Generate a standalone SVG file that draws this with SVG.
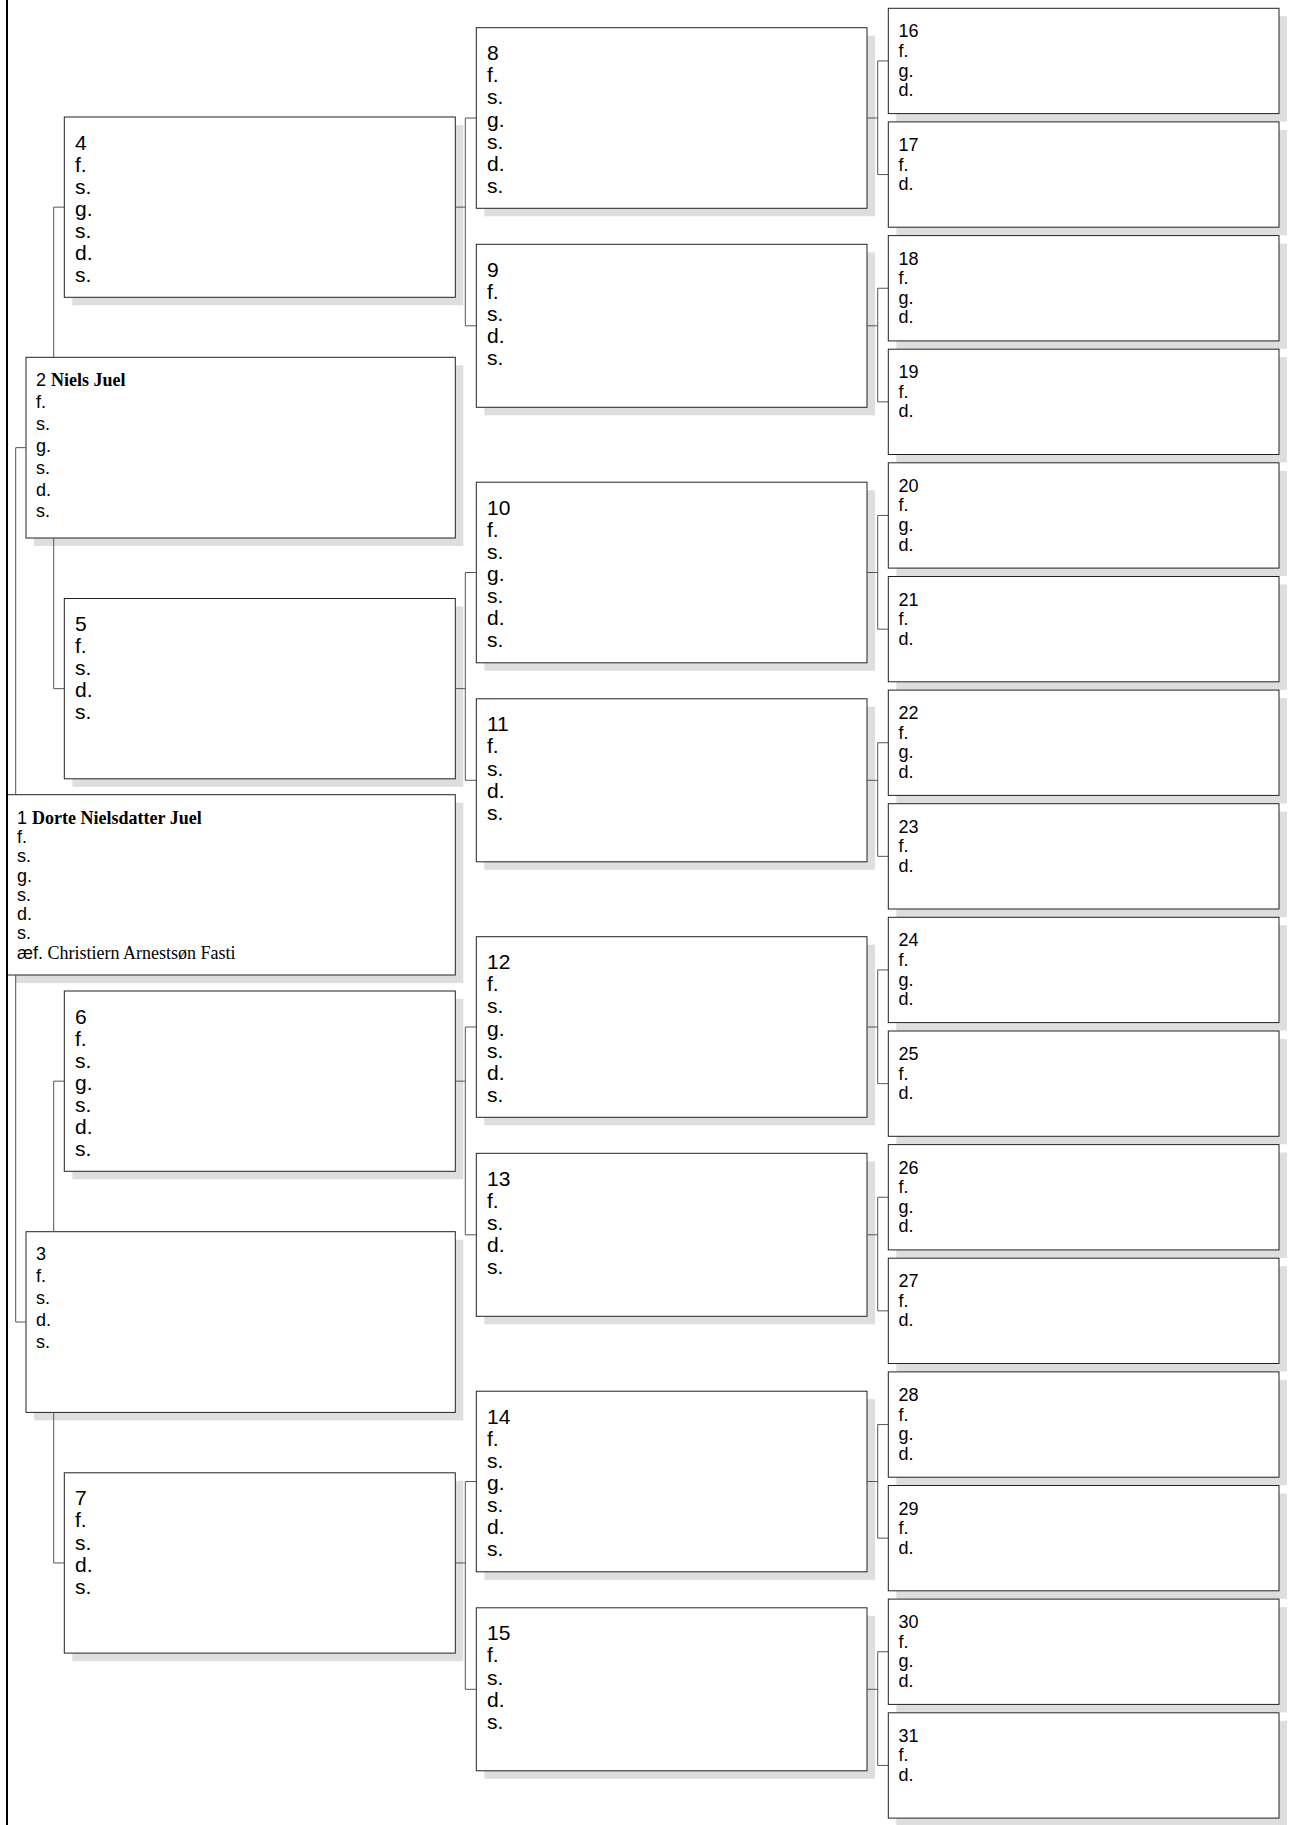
<svg xmlns="http://www.w3.org/2000/svg" width="1304" height="1825" viewBox="0 0 1304 1825">
<style>
.bg{fill:#fff}
.sh{fill:#dedede}
.box{fill:#fff;stroke:#222;stroke-width:1}
.c{fill:none;stroke:#555;stroke-width:1}
.main{fill:none;stroke:#000;stroke-width:2}
text{font-family:"Liberation Sans",Arial,sans-serif;fill:#000}
.L{font-size:21px}
.S{font-size:18px}
.serif{font-family:"Liberation Serif","Times New Roman",serif}
.b{font-weight:bold}
</style>
<rect class="bg" x="0" y="0" width="1304" height="1825"/>

<!-- Generation 1 -->
<g id="p1">
<rect class="sh" x="15.3" y="802.7" width="448" height="180.3"/>
<rect class="box" x="7.3" y="794.7" width="448" height="180.3"/>
<text class="S" x="17" y="824">1 <tspan class="serif b">Dorte Nielsdatter Juel</tspan></text>
<text class="S" x="17" y="843.2">f.</text>
<text class="S" x="17" y="862.4">s.</text>
<text class="S" x="17" y="881.6">g.</text>
<text class="S" x="17" y="900.8">s.</text>
<text class="S" x="17" y="920">d.</text>
<text class="S" x="17" y="939.2">s.</text>
<text class="S" x="17" y="959">æf.<tspan class="serif"> Christiern Arnestsøn Fasti</tspan></text>
</g>

<!-- Generation 2 -->
<g id="p2">
<rect class="sh" x="34" y="365.3" width="429.3" height="180.7"/>
<rect class="box" x="26" y="357.3" width="429.3" height="180.7"/>
<text class="S" x="36" y="386">2 <tspan class="serif b">Niels Juel</tspan><tspan x="36" dy="21.9">f.</tspan><tspan x="36" dy="21.9">s.</tspan><tspan x="36" dy="21.9">g.</tspan><tspan x="36" dy="21.9">s.</tspan><tspan x="36" dy="21.9">d.</tspan><tspan x="36" dy="21.9">s.</tspan></text>
</g>
<g id="p3">
<rect class="sh" x="34" y="1239.7" width="429.3" height="180.7"/>
<rect class="box" x="26" y="1231.7" width="429.3" height="180.7"/>
<text class="S" x="36" y="1260">3<tspan x="36" dy="22">f.</tspan><tspan x="36" dy="22">s.</tspan><tspan x="36" dy="22">d.</tspan><tspan x="36" dy="22">s.</tspan></text>
</g>

<!-- Generation 3 -->
<g id="p4">
<rect class="sh" x="72.3" y="125" width="391" height="180.3"/>
<rect class="box" x="64.3" y="117" width="391" height="180.3"/>
<text class="L" x="75" y="149.5">4<tspan x="75" dy="22.1">f.</tspan><tspan x="75" dy="22.1">s.</tspan><tspan x="75" dy="22.1">g.</tspan><tspan x="75" dy="22.1">s.</tspan><tspan x="75" dy="22.1">d.</tspan><tspan x="75" dy="22.1">s.</tspan></text>
</g>
<g id="p5">
<rect class="sh" x="72.3" y="606.5" width="391" height="180.3"/>
<rect class="box" x="64.3" y="598.5" width="391" height="180.3"/>
<text class="L" x="75" y="631">5<tspan x="75" dy="22.1">f.</tspan><tspan x="75" dy="22.1">s.</tspan><tspan x="75" dy="22.1">d.</tspan><tspan x="75" dy="22.1">s.</tspan></text>
</g>
<g id="p6">
<rect class="sh" x="72.3" y="999" width="391" height="180.3"/>
<rect class="box" x="64.3" y="991" width="391" height="180.3"/>
<text class="L" x="75" y="1023.5">6<tspan x="75" dy="22.1">f.</tspan><tspan x="75" dy="22.1">s.</tspan><tspan x="75" dy="22.1">g.</tspan><tspan x="75" dy="22.1">s.</tspan><tspan x="75" dy="22.1">d.</tspan><tspan x="75" dy="22.1">s.</tspan></text>
</g>
<g id="p7">
<rect class="sh" x="72.3" y="1480.8" width="391" height="180.3"/>
<rect class="box" x="64.3" y="1472.8" width="391" height="180.3"/>
<text class="L" x="75" y="1505.3">7<tspan x="75" dy="22.1">f.</tspan><tspan x="75" dy="22.1">s.</tspan><tspan x="75" dy="22.1">d.</tspan><tspan x="75" dy="22.1">s.</tspan></text>
</g>

<!-- Generation 4 -->
<g id="p8">
<rect class="sh" x="484.3" y="35.7" width="390.7" height="180.6"/>
<rect class="box" x="476.3" y="27.7" width="390.7" height="180.6"/>
<text class="L" x="487" y="60.2">8<tspan x="487" dy="22.1">f.</tspan><tspan x="487" dy="22.1">s.</tspan><tspan x="487" dy="22.1">g.</tspan><tspan x="487" dy="22.1">s.</tspan><tspan x="487" dy="22.1">d.</tspan><tspan x="487" dy="22.1">s.</tspan></text>
</g>
<g id="p9">
<rect class="sh" x="484.3" y="252.3" width="390.7" height="163"/>
<rect class="box" x="476.3" y="244.3" width="390.7" height="163"/>
<text class="L" x="487" y="276.8">9<tspan x="487" dy="22.1">f.</tspan><tspan x="487" dy="22.1">s.</tspan><tspan x="487" dy="22.1">d.</tspan><tspan x="487" dy="22.1">s.</tspan></text>
</g>
<g id="p10">
<rect class="sh" x="484.3" y="490.2" width="390.7" height="180.6"/>
<rect class="box" x="476.3" y="482.2" width="390.7" height="180.6"/>
<text class="L" x="487" y="514.7">10<tspan x="487" dy="22.1">f.</tspan><tspan x="487" dy="22.1">s.</tspan><tspan x="487" dy="22.1">g.</tspan><tspan x="487" dy="22.1">s.</tspan><tspan x="487" dy="22.1">d.</tspan><tspan x="487" dy="22.1">s.</tspan></text>
</g>
<g id="p11">
<rect class="sh" x="484.3" y="706.8" width="390.7" height="163"/>
<rect class="box" x="476.3" y="698.8" width="390.7" height="163"/>
<text class="L" x="487" y="731.3">11<tspan x="487" dy="22.1">f.</tspan><tspan x="487" dy="22.1">s.</tspan><tspan x="487" dy="22.1">d.</tspan><tspan x="487" dy="22.1">s.</tspan></text>
</g>
<g id="p12">
<rect class="sh" x="484.3" y="944.7" width="390.7" height="180.6"/>
<rect class="box" x="476.3" y="936.7" width="390.7" height="180.6"/>
<text class="L" x="487" y="969.2">12<tspan x="487" dy="22.1">f.</tspan><tspan x="487" dy="22.1">s.</tspan><tspan x="487" dy="22.1">g.</tspan><tspan x="487" dy="22.1">s.</tspan><tspan x="487" dy="22.1">d.</tspan><tspan x="487" dy="22.1">s.</tspan></text>
</g>
<g id="p13">
<rect class="sh" x="484.3" y="1161.3" width="390.7" height="163"/>
<rect class="box" x="476.3" y="1153.3" width="390.7" height="163"/>
<text class="L" x="487" y="1185.8">13<tspan x="487" dy="22.1">f.</tspan><tspan x="487" dy="22.1">s.</tspan><tspan x="487" dy="22.1">d.</tspan><tspan x="487" dy="22.1">s.</tspan></text>
</g>
<g id="p14">
<rect class="sh" x="484.3" y="1399.2" width="390.7" height="180.6"/>
<rect class="box" x="476.3" y="1391.2" width="390.7" height="180.6"/>
<text class="L" x="487" y="1423.7">14<tspan x="487" dy="22.1">f.</tspan><tspan x="487" dy="22.1">s.</tspan><tspan x="487" dy="22.1">g.</tspan><tspan x="487" dy="22.1">s.</tspan><tspan x="487" dy="22.1">d.</tspan><tspan x="487" dy="22.1">s.</tspan></text>
</g>
<g id="p15">
<rect class="sh" x="484.3" y="1615.8" width="390.7" height="163"/>
<rect class="box" x="476.3" y="1607.8" width="390.7" height="163"/>
<text class="L" x="487" y="1640.3">15<tspan x="487" dy="22.1">f.</tspan><tspan x="487" dy="22.1">s.</tspan><tspan x="487" dy="22.1">d.</tspan><tspan x="487" dy="22.1">s.</tspan></text>
</g>

<!-- Generation 5 -->
<g id="p16"><rect class="sh" x="896.3" y="16.3" width="390.7" height="105.3"/><rect class="box" x="888.3" y="8.3" width="390.7" height="105.3"/>
<text class="S" x="898.5" y="37.3">16<tspan x="898.5" dy="19.6">f.</tspan><tspan x="898.5" dy="19.6">g.</tspan><tspan x="898.5" dy="19.6">d.</tspan></text></g>
<g id="p17"><rect class="sh" x="896.3" y="129.9" width="390.7" height="105.3"/><rect class="box" x="888.3" y="121.9" width="390.7" height="105.3"/>
<text class="S" x="898.5" y="150.9">17<tspan x="898.5" dy="19.6">f.</tspan><tspan x="898.5" dy="19.6">d.</tspan></text></g>
<g id="p18"><rect class="sh" x="896.3" y="243.6" width="390.7" height="105.3"/><rect class="box" x="888.3" y="235.6" width="390.7" height="105.3"/>
<text class="S" x="898.5" y="264.6">18<tspan x="898.5" dy="19.6">f.</tspan><tspan x="898.5" dy="19.6">g.</tspan><tspan x="898.5" dy="19.6">d.</tspan></text></g>
<g id="p19"><rect class="sh" x="896.3" y="357.2" width="390.7" height="105.3"/><rect class="box" x="888.3" y="349.2" width="390.7" height="105.3"/>
<text class="S" x="898.5" y="378.2">19<tspan x="898.5" dy="19.6">f.</tspan><tspan x="898.5" dy="19.6">d.</tspan></text></g>
<g id="p20"><rect class="sh" x="896.3" y="470.8" width="390.7" height="105.3"/><rect class="box" x="888.3" y="462.8" width="390.7" height="105.3"/>
<text class="S" x="898.5" y="491.8">20<tspan x="898.5" dy="19.6">f.</tspan><tspan x="898.5" dy="19.6">g.</tspan><tspan x="898.5" dy="19.6">d.</tspan></text></g>
<g id="p21"><rect class="sh" x="896.3" y="584.5" width="390.7" height="105.3"/><rect class="box" x="888.3" y="576.5" width="390.7" height="105.3"/>
<text class="S" x="898.5" y="605.5">21<tspan x="898.5" dy="19.6">f.</tspan><tspan x="898.5" dy="19.6">d.</tspan></text></g>
<g id="p22"><rect class="sh" x="896.3" y="698.1" width="390.7" height="105.3"/><rect class="box" x="888.3" y="690.1" width="390.7" height="105.3"/>
<text class="S" x="898.5" y="719.1">22<tspan x="898.5" dy="19.6">f.</tspan><tspan x="898.5" dy="19.6">g.</tspan><tspan x="898.5" dy="19.6">d.</tspan></text></g>
<g id="p23"><rect class="sh" x="896.3" y="811.7" width="390.7" height="105.3"/><rect class="box" x="888.3" y="803.7" width="390.7" height="105.3"/>
<text class="S" x="898.5" y="832.7">23<tspan x="898.5" dy="19.6">f.</tspan><tspan x="898.5" dy="19.6">d.</tspan></text></g>
<g id="p24"><rect class="sh" x="896.3" y="925.3" width="390.7" height="105.3"/><rect class="box" x="888.3" y="917.3" width="390.7" height="105.3"/>
<text class="S" x="898.5" y="946.3">24<tspan x="898.5" dy="19.6">f.</tspan><tspan x="898.5" dy="19.6">g.</tspan><tspan x="898.5" dy="19.6">d.</tspan></text></g>
<g id="p25"><rect class="sh" x="896.3" y="1039" width="390.7" height="105.3"/><rect class="box" x="888.3" y="1031" width="390.7" height="105.3"/>
<text class="S" x="898.5" y="1060">25<tspan x="898.5" dy="19.6">f.</tspan><tspan x="898.5" dy="19.6">d.</tspan></text></g>
<g id="p26"><rect class="sh" x="896.3" y="1152.6" width="390.7" height="105.3"/><rect class="box" x="888.3" y="1144.6" width="390.7" height="105.3"/>
<text class="S" x="898.5" y="1173.6">26<tspan x="898.5" dy="19.6">f.</tspan><tspan x="898.5" dy="19.6">g.</tspan><tspan x="898.5" dy="19.6">d.</tspan></text></g>
<g id="p27"><rect class="sh" x="896.3" y="1266.2" width="390.7" height="105.3"/><rect class="box" x="888.3" y="1258.2" width="390.7" height="105.3"/>
<text class="S" x="898.5" y="1287.2">27<tspan x="898.5" dy="19.6">f.</tspan><tspan x="898.5" dy="19.6">d.</tspan></text></g>
<g id="p28"><rect class="sh" x="896.3" y="1379.9" width="390.7" height="105.3"/><rect class="box" x="888.3" y="1371.9" width="390.7" height="105.3"/>
<text class="S" x="898.5" y="1400.9">28<tspan x="898.5" dy="19.6">f.</tspan><tspan x="898.5" dy="19.6">g.</tspan><tspan x="898.5" dy="19.6">d.</tspan></text></g>
<g id="p29"><rect class="sh" x="896.3" y="1493.5" width="390.7" height="105.3"/><rect class="box" x="888.3" y="1485.5" width="390.7" height="105.3"/>
<text class="S" x="898.5" y="1514.5">29<tspan x="898.5" dy="19.6">f.</tspan><tspan x="898.5" dy="19.6">d.</tspan></text></g>
<g id="p30"><rect class="sh" x="896.3" y="1607.1" width="390.7" height="105.3"/><rect class="box" x="888.3" y="1599.1" width="390.7" height="105.3"/>
<text class="S" x="898.5" y="1628.1">30<tspan x="898.5" dy="19.6">f.</tspan><tspan x="898.5" dy="19.6">g.</tspan><tspan x="898.5" dy="19.6">d.</tspan></text></g>
<g id="p31"><rect class="sh" x="896.3" y="1720.8" width="390.7" height="105.3"/><rect class="box" x="888.3" y="1712.8" width="390.7" height="105.3"/>
<text class="S" x="898.5" y="1741.8">31<tspan x="898.5" dy="19.6">f.</tspan><tspan x="898.5" dy="19.6">d.</tspan></text></g>

<!-- Connectors -->
<g id="connectors">
<path class="main" d="M7,0V1825"/>
<path class="c" d="M26,447.65H15.7V794.7 M15.7,975V1322H26"/>
<path class="c" d="M64.3,207.15H53.7V357.3 M53.7,538V688.65H64.3"/>
<path class="c" d="M64.3,1081.15H53.7V1231.7 M53.7,1412.4V1562.95H64.3"/>
<path class="c" d="M455.3,207.15H465.3 M476.3,118H465.3V325.8H476.3"/>
<path class="c" d="M455.3,688.65H465.3 M476.3,572.5H465.3V780.3H476.3"/>
<path class="c" d="M455.3,1081.15H465.3 M476.3,1027H465.3V1234.8H476.3"/>
<path class="c" d="M455.3,1562.95H465.3 M476.3,1481.5H465.3V1689.3H476.3"/>
<path class="c" d="M867,118H877.7 M888.3,60.95H877.7V174.55H888.3"/>
<path class="c" d="M867,325.8H877.7 M888.3,288.25H877.7V401.85H888.3"/>
<path class="c" d="M867,572.5H877.7 M888.3,515.45H877.7V629.15H888.3"/>
<path class="c" d="M867,780.3H877.7 M888.3,742.75H877.7V856.35H888.3"/>
<path class="c" d="M867,1027H877.7 M888.3,969.95H877.7V1083.65H888.3"/>
<path class="c" d="M867,1234.8H877.7 M888.3,1197.25H877.7V1310.85H888.3"/>
<path class="c" d="M867,1481.5H877.7 M888.3,1424.55H877.7V1538.15H888.3"/>
<path class="c" d="M867,1689.3H877.7 M888.3,1651.75H877.7V1765.45H888.3"/>
</g>
</svg>
